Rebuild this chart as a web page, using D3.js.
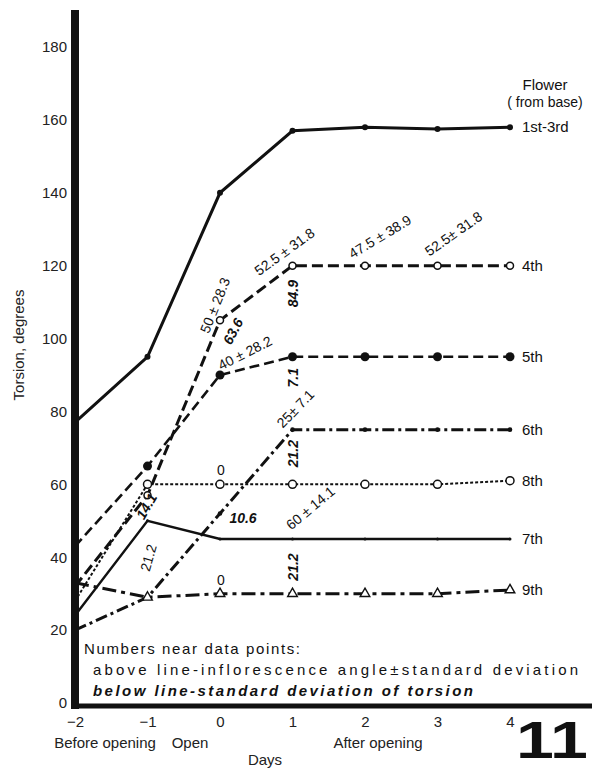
<!DOCTYPE html>
<html>
<head>
<meta charset="utf-8">
<script src="https://cdn.jsdelivr.net/npm/d3@7"></script>
<style>
  body { margin: 0; background: #fff; }
  svg { font-family: "Liberation Sans", Arial, sans-serif; }
</style>
</head>
<body>
<div id="chart"></div>
<script>
// days after flower opening
var days = [-2, -1, 0, 1, 2, 3, 4];
var dayTicks = ["\u22122", "\u22121", "0", "1", "2", "3", "4"];
var torsionTicks = [0, 20, 40, 60, 80, 100, 120, 140, 160, 180];

// torsion (degrees) per flower position
var flower1to3 = [77, 95, 140, 157, 158, 157.5, 158];
var flower4 = [32, 57, 105, 120, 120, 120, 120];
var flower5 = [43, 65, 90, 95, 95, 95, 95];
var flower6 = [20, 29, 52, 75, 75, 75, 75];
var flower8 = [28, 60, 60, 60, 60, 60, 61];
var flower7 = [24, 50, 45, 45, 45, 45, 45];
var flower9 = [33, 29, 30, 30, 30, 30, 31];

var seriesNames = ["1st-3rd", "4th", "5th", "6th", "8th", "7th", "9th"];
var seriesValues = [flower1to3, flower4, flower5, flower6, flower8, flower7, flower9];

// numbers near data points
var noteTexts = ["50 \u00b1 28.3", "63.6", "40 \u00b1 28.2", "52.5 \u00b1 31.8", "84.9",
                 "47.5 \u00b1 38.9", "52.5\u00b1 31.8", "25\u00b1 7.1", "7.1", "21.2",
                 "0", "10.6", "60 \u00b1 14.1", "21.2", "0", "14.1", "21.2"];
var noteDays = [0, 0, 0, 1, 1, 2, 3, 1, 1, 1, 0, 0, 1, 1, 0, -1, -1];
var noteValues = [105, 105, 90, 120, 120, 120, 120, 75, 95, 75, 60, 52, 45, 45, 30, 57, 50];
var noteBelow = [false, true, false, false, true, false, false, false, true, true,
                 false, true, false, true, false, true, false];

var width = 598, height = 771;

var svg = d3.select('#chart')
    .append('svg')
    .attr('width', width)
    .attr('height', height);

var x = d3.scaleLinear().domain([-2, 4]).range([75, 510]);
var y = d3.scaleLinear().domain([0, 180]).range([703, 47]);

// line styles by flower
var styles = {
    "1st-3rd": { width: 3, dash: null, marker: "dot", r: 3 },
    "4th": { width: 3, dash: "11,5", marker: "open", r: 3.5 },
    "5th": { width: 2.6, dash: "10,5", marker: "dot", r: 4.5 },
    "6th": { width: 3, dash: "12,4,3,4", marker: "dot", r: 2.3 },
    "8th": { width: 2, dash: "3,2", marker: "open", r: 4 },
    "7th": { width: 2.4, dash: null, marker: "dot", r: 1.5 },
    "9th": { width: 3, dash: "14,5,4,5", marker: "tri", r: 4 }
};

var line = d3.line()
    .x(function(d, i) { return x(days[i]); })
    .y(function(d) { return y(d); });

seriesNames.forEach(function(name, s) {
    var st = styles[name];
    var vals = seriesValues[s];
    svg.append('path')
        .attr('d', line(vals))
        .attr('fill', 'none')
        .attr('stroke', '#111')
        .attr('stroke-width', st.width)
        .attr('stroke-dasharray', st.dash);

    var pts = svg.append('g').selectAll('.pt')
        .data(vals.slice(1))
        .enter();
    if (st.marker == "tri") {
        pts.append('path')
            .attr('d', d3.symbol().type(d3.symbolTriangle).size(40))
            .attr('transform', function(d, i) {
                return 'translate(' + x(days[i + 1]) + ',' + y(d) + ')';
            })
            .attr('fill', '#fff')
            .attr('stroke', '#111')
            .attr('stroke-width', 1.4);
    } else {
        pts.append('circle')
            .attr('cx', function(d, i) { return x(days[i + 1]); })
            .attr('cy', function(d) { return y(d); })
            .attr('r', st.r)
            .attr('fill', st.marker == "open" ? '#fff' : '#111')
            .attr('stroke', '#111')
            .attr('stroke-width', st.marker == "open" ? 1.5 : 0);
    }

    svg.append('text')
        .attr('x', x(4) + 12)
        .attr('y', y(vals[vals.length - 1]) + 5)
        .attr('font-size', 15)
        .attr('fill', '#111')
        .text(name);
});

svg.append('text').attr('x', 545).attr('y', 90).attr('text-anchor', 'middle')
    .attr('font-size', 15).attr('fill', '#111').text('Flower');
svg.append('text').attr('x', 545).attr('y', 107).attr('text-anchor', 'middle')
    .attr('font-size', 14).attr('fill', '#111').text('( from base)');

// placement of the numbers: offsets in px from their point, and angle
var noteLayout = [
    [-5, -15, -68], [13, 11, -62], [25, -22, -27], [-8, -14, -36], [1, 28, -90],
    [15, -29, -31], [16, -32, -35], [3, -21, -46], [1, 21, -90], [1, 24, -90],
    [1, -14, 0], [23, 5, 0], [18, -31, -40], [1, 28, -90], [1, -14, 0], [-1, 11, -60], [1, 37, -74]
];

noteTexts.forEach(function(t, i) {
    var l = noteLayout[i];
    var px = x(noteDays[i]) + l[0], py = y(noteValues[i]) + l[1];
    svg.append('text')
        .attr('transform', 'translate(' + px + ',' + py + ') rotate(' + l[2] + ')')
        .attr('text-anchor', 'middle')
        .attr('dy', '0.35em')
        .attr('font-size', 14)
        .attr('font-weight', noteBelow[i] ? 'bold' : 'normal')
        .attr('font-style', noteBelow[i] ? 'italic' : 'normal')
        .attr('fill', '#111')
        .text(t);
});

// axes
var yAxis = d3.axisLeft(y).tickValues(torsionTicks).tickSize(0).tickPadding(8);
var gy = svg.append('g').attr('transform', 'translate(' + x(-2) + ',0)').call(yAxis);
gy.select('.domain').remove();
gy.selectAll('text').attr('font-size', 15).attr('fill', '#222')
    .attr('font-family', '"Liberation Sans", Arial, sans-serif');

var xAxis = d3.axisBottom(x).tickValues(days)
    .tickFormat(function(d, i) { return dayTicks[i]; })
    .tickSize(0).tickPadding(13);
var gx = svg.append('g').attr('transform', 'translate(0,' + y(0) + ')').call(xAxis);
gx.select('.domain').remove();
gx.selectAll('text').attr('font-size', 15).attr('fill', '#222')
    .attr('font-family', '"Liberation Sans", Arial, sans-serif');

svg.append('line')
    .attr('x1', x(-2)).attr('x2', x(-2))
    .attr('y1', 10).attr('y2', y(0) + 6)
    .attr('stroke', '#111').attr('stroke-width', 8);
svg.append('line')
    .attr('x1', x(-2)).attr('x2', 592)
    .attr('y1', y(0) + 3).attr('y2', y(0) + 3)
    .attr('stroke', '#111').attr('stroke-width', 5);

svg.append('text')
    .attr('transform', 'translate(24,345) rotate(-90)')
    .attr('text-anchor', 'middle')
    .attr('font-size', 15).attr('fill', '#222')
    .text('Torsion, degrees');

svg.append('text').attr('x', 105).attr('y', 748).attr('text-anchor', 'middle')
    .attr('font-size', 15).attr('fill', '#222').text('Before opening');
svg.append('text').attr('x', 190).attr('y', 748).attr('text-anchor', 'middle')
    .attr('font-size', 15).attr('fill', '#222').text('Open');
svg.append('text').attr('x', 378).attr('y', 748).attr('text-anchor', 'middle')
    .attr('font-size', 15).attr('fill', '#222').text('After opening');
svg.append('text').attr('x', 265).attr('y', 765).attr('text-anchor', 'middle')
    .attr('font-size', 15).attr('fill', '#222').text('Days');
svg.append('text').attr('x', 516).attr('y', 758)
    .attr('font-size', 52).attr('font-weight', 'bold').attr('fill', '#111')
    .attr('textLength', 72).attr('lengthAdjust', 'spacingAndGlyphs')
    .text('11');

svg.append('text').attr('x', 84).attr('y', 654)
    .attr('font-size', 15).attr('fill', '#111')
    .attr('textLength', 216).attr('lengthAdjust', 'spacing')
    .text('Numbers near data points:');
svg.append('text').attr('x', 93).attr('y', 675)
    .attr('font-size', 15).attr('fill', '#111')
    .attr('textLength', 485).attr('lengthAdjust', 'spacing')
    .text('above line-inflorescence angle\u00b1standard deviation');
svg.append('text').attr('x', 93).attr('y', 696)
    .attr('font-size', 15).attr('fill', '#111')
    .attr('font-weight', 'bold').attr('font-style', 'italic')
    .attr('textLength', 380).attr('lengthAdjust', 'spacing')
    .text('below line-standard deviation of torsion');
</script>
</body>
</html>
